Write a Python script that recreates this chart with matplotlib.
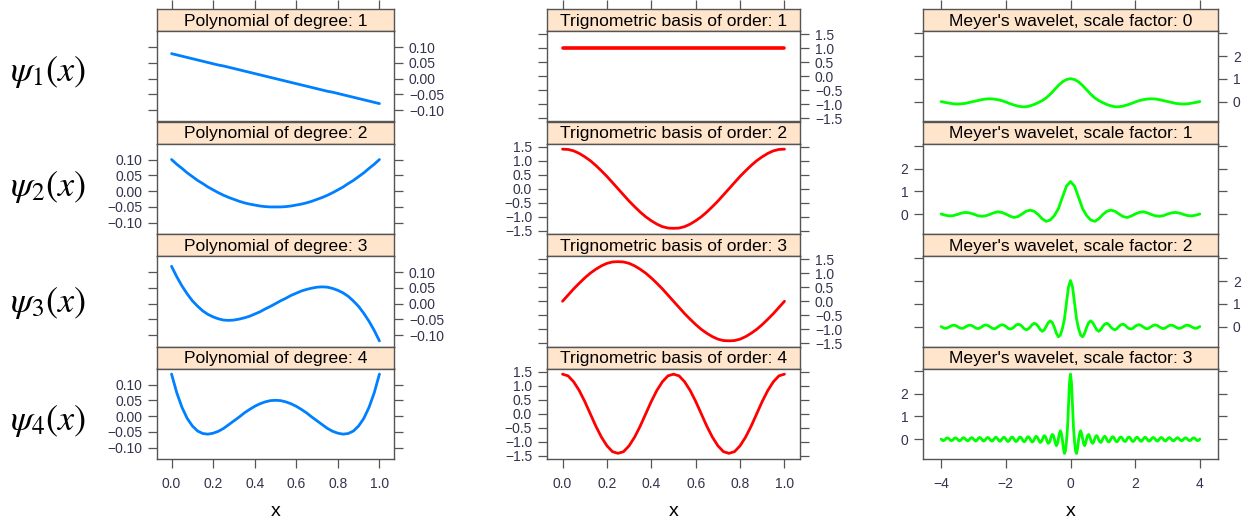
import numpy as np
import matplotlib.pyplot as plt

plt.rcParams['font.family'] = ['Liberation Sans', 'DejaVu Sans']
plt.rcParams['mathtext.fontset'] = 'stix'

# ---- data ----
x_unit = np.linspace(0, 1, 41)
x_m0 = np.linspace(-4, 4, 65)
x_m1 = np.linspace(-4, 4, 65)
x_m2 = np.linspace(-4, 4, 129)
x_m3 = np.linspace(-4, 4, 257)

poly1 = [0.079, 0.075, 0.071, 0.067, 0.063, 0.059, 0.055, 0.051, 0.047, 0.043,
         0.040, 0.036, 0.032, 0.028, 0.024, 0.020, 0.016, 0.012, 0.008, 0.004,
         0.000, -0.004, -0.008, -0.012, -0.016, -0.020, -0.024, -0.028, -0.032, -0.036,
         -0.040, -0.043, -0.047, -0.051, -0.055, -0.059, -0.063, -0.067, -0.071, -0.075,
         -0.079]
poly2 = [0.100, 0.085, 0.072, 0.058, 0.046, 0.034, 0.024, 0.013, 0.004, -0.005,
         -0.013, -0.020, -0.026, -0.032, -0.037, -0.041, -0.044, -0.047, -0.049, -0.050,
         -0.050, -0.050, -0.049, -0.047, -0.044, -0.041, -0.037, -0.032, -0.026, -0.020,
         -0.013, -0.005, 0.004, 0.013, 0.024, 0.034, 0.046, 0.058, 0.072, 0.085,
         0.100]
poly3 = [0.118, 0.085, 0.056, 0.031, 0.009, -0.008, -0.023, -0.034, -0.042, -0.048,
         -0.052, -0.053, -0.052, -0.049, -0.045, -0.040, -0.033, -0.026, -0.017, -0.009,
         0.000, 0.009, 0.017, 0.026, 0.033, 0.040, 0.045, 0.049, 0.052, 0.053,
         0.052, 0.048, 0.042, 0.034, 0.023, 0.008, -0.009, -0.031, -0.056, -0.085,
         -0.118]
poly4 = [0.133, 0.074, 0.028, -0.007, -0.031, -0.047, -0.055, -0.057, -0.054, -0.048,
         -0.039, -0.027, -0.015, -0.003, 0.010, 0.021, 0.031, 0.039, 0.045, 0.049,
         0.050, 0.049, 0.045, 0.039, 0.031, 0.021, 0.010, -0.003, -0.015, -0.027,
         -0.039, -0.048, -0.054, -0.057, -0.055, -0.047, -0.031, -0.007, 0.028, 0.074,
         0.133]

trig1 = [1.00] * 41
trig2 = [1.41, 1.40, 1.35, 1.26, 1.14, 1.00, 0.83, 0.64, 0.44, 0.22,
         0.00, -0.22, -0.44, -0.64, -0.83, -1.00, -1.14, -1.26, -1.35, -1.40,
         -1.41, -1.40, -1.35, -1.26, -1.14, -1.00, -0.83, -0.64, -0.44, -0.22,
         0.00, 0.22, 0.44, 0.64, 0.83, 1.00, 1.14, 1.26, 1.35, 1.40,
         1.41]
trig3 = [0.00, 0.22, 0.44, 0.64, 0.83, 1.00, 1.14, 1.26, 1.35, 1.40,
         1.41, 1.40, 1.35, 1.26, 1.14, 1.00, 0.83, 0.64, 0.44, 0.22,
         0.00, -0.22, -0.44, -0.64, -0.83, -1.00, -1.14, -1.26, -1.35, -1.40,
         -1.41, -1.40, -1.35, -1.26, -1.14, -1.00, -0.83, -0.64, -0.44, -0.22,
         0.00]
trig4 = [1.41, 1.35, 1.14, 0.83, 0.44, 0.00, -0.44, -0.83, -1.14, -1.35,
         -1.41, -1.35, -1.14, -0.83, -0.44, 0.00, 0.44, 0.83, 1.14, 1.35,
         1.41, 1.35, 1.14, 0.83, 0.44, 0.00, -0.44, -0.83, -1.14, -1.35,
         -1.41, -1.35, -1.14, -0.83, -0.44, 0.00, 0.44, 0.83, 1.14, 1.35,
         1.41]

meyer0 = [0.01, -0.03, -0.06, -0.09, -0.10, -0.09, -0.07, -0.03,
          0.01, 0.05, 0.09, 0.12, 0.13, 0.12, 0.09, 0.05,
          -0.01, -0.08, -0.14, -0.19, -0.22, -0.22, -0.18, -0.12,
          -0.04, 0.05, 0.17, 0.33, 0.52, 0.71, 0.87, 0.97,
          1.01,
          0.97, 0.87, 0.71, 0.52, 0.33, 0.17, 0.05, -0.04,
          -0.12, -0.18, -0.22, -0.22, -0.19, -0.14, -0.08, -0.01,
          0.05, 0.09, 0.12, 0.13, 0.12, 0.09, 0.05, 0.01,
          -0.03, -0.07, -0.09, -0.10, -0.09, -0.06, -0.03, 0.01]
meyer1 = [0.01, -0.04, -0.07, -0.06, -0.01, 0.05, 0.08, 0.06,
          0.01, -0.06, -0.09, -0.07, -0.01, 0.06, 0.11, 0.08,
          0.01, -0.08, -0.14, -0.10, 0.01, 0.13, 0.18, 0.13,
          -0.01, -0.20, -0.31, -0.25, -0.06, 0.24, 0.74, 1.23,
          1.43,
          1.23, 0.74, 0.24, -0.06, -0.25, -0.31, -0.20, -0.01,
          0.13, 0.18, 0.13, 0.01, -0.10, -0.14, -0.08, 0.01,
          0.08, 0.11, 0.06, -0.01, -0.07, -0.09, -0.06, 0.01,
          0.06, 0.08, 0.05, -0.01, -0.06, -0.07, -0.04, 0.01]
meyer2 = [0.01,
          -0.04, -0.07, -0.05, -0.01, 0.04, 0.07, 0.06, 0.01,
          -0.04, -0.07, -0.06, -0.01, 0.04, 0.07, 0.06, 0.01,
          -0.05, -0.08, -0.06, -0.01, 0.05, 0.08, 0.06, 0.01,
          -0.05, -0.09, -0.07, -0.01, 0.05, 0.09, 0.07, 0.02,
          -0.06, -0.10, -0.08, -0.02, 0.07, 0.11, 0.09, 0.02,
          -0.08, -0.13, -0.10, -0.02, 0.09, 0.15, 0.12, 0.02,
          -0.12, -0.20, -0.14, 0.02, 0.18, 0.26, 0.18, -0.02,
          -0.28, -0.44, -0.36, -0.08, 0.34, 1.04, 1.74,
          2.02,
          1.74, 1.04, 0.34, -0.08, -0.36, -0.44, -0.28,
          -0.02, 0.18, 0.26, 0.18, 0.02, -0.14, -0.20, -0.12,
          0.02, 0.12, 0.15, 0.09, -0.02, -0.10, -0.13, -0.08,
          0.02, 0.09, 0.11, 0.07, -0.02, -0.08, -0.10, -0.06,
          0.02, 0.07, 0.09, 0.05, -0.01, -0.07, -0.09, -0.05,
          0.01, 0.06, 0.08, 0.05, -0.01, -0.06, -0.08, -0.05,
          0.01, 0.06, 0.07, 0.04, -0.01, -0.06, -0.07, -0.04,
          0.01, 0.06, 0.07, 0.04, -0.01, -0.05, -0.07, -0.04,
          0.01]
meyer3 = [0.01,
          -0.04, -0.06, -0.05, -0.01, 0.04, 0.06, 0.05, 0.01,
          -0.04, -0.06, -0.05, -0.01, 0.04, 0.06, 0.05, 0.01,
          -0.04, -0.07, -0.05, -0.01, 0.04, 0.07, 0.05, 0.01,
          -0.04, -0.07, -0.06, -0.01, 0.04, 0.07, 0.06, 0.01,
          -0.04, -0.08, -0.06, -0.01, 0.05, 0.08, 0.06, 0.01,
          -0.05, -0.08, -0.06, -0.01, 0.05, 0.08, 0.06, 0.01,
          -0.05, -0.08, -0.07, -0.01, 0.05, 0.09, 0.07, 0.01,
          -0.05, -0.09, -0.07, -0.01, 0.05, 0.09, 0.07, 0.01,
          -0.06, -0.10, -0.08, -0.02, 0.06, 0.10, 0.08, 0.02,
          -0.06, -0.10, -0.08, -0.02, 0.06, 0.10, 0.08, 0.02,
          -0.07, -0.11, -0.09, -0.02, 0.07, 0.11, 0.09, 0.02,
          -0.07, -0.12, -0.10, -0.02, 0.08, 0.13, 0.10, 0.03,
          -0.08, -0.14, -0.11, -0.03, 0.09, 0.16, 0.13, 0.03,
          -0.11, -0.18, -0.14, -0.03, 0.13, 0.21, 0.17, 0.03,
          -0.17, -0.28, -0.20, 0.03, 0.25, 0.37, 0.25, -0.03,
          -0.40, -0.62, -0.51, -0.11, 0.48, 1.47, 2.46,
          2.85,
          2.46, 1.47, 0.48, -0.11, -0.51, -0.62, -0.40,
          -0.03, 0.25, 0.37, 0.25, 0.03, -0.20, -0.28, -0.17,
          0.03, 0.17, 0.21, 0.13, -0.03, -0.14, -0.18, -0.11,
          0.03, 0.13, 0.16, 0.09, -0.03, -0.11, -0.14, -0.08,
          0.03, 0.10, 0.13, 0.08, -0.02, -0.10, -0.12, -0.07,
          0.02, 0.09, 0.11, 0.07, -0.02, -0.09, -0.11, -0.07,
          0.02, 0.08, 0.10, 0.06, -0.02, -0.08, -0.10, -0.06,
          0.02, 0.08, 0.10, 0.06, -0.02, -0.08, -0.10, -0.06,
          0.01, 0.07, 0.09, 0.05, -0.01, -0.07, -0.09, -0.05,
          0.01, 0.07, 0.09, 0.05, -0.01, -0.07, -0.08, -0.05,
          0.01, 0.06, 0.08, 0.05, -0.01, -0.06, -0.08, -0.05,
          0.01, 0.06, 0.08, 0.05, -0.01, -0.06, -0.08, -0.04,
          0.01, 0.06, 0.07, 0.04, -0.01, -0.06, -0.07, -0.04,
          0.01, 0.05, 0.07, 0.04, -0.01, -0.05, -0.07, -0.04,
          0.01, 0.05, 0.06, 0.04, -0.01, -0.05, -0.06, -0.04,
          0.01, 0.05, 0.06, 0.04, -0.01, -0.05, -0.06, -0.04,
          0.01]

poly_titles = ['Polynomial of degree: %d' % i for i in [1, 2, 3, 4]]
trig_titles = ['Trignometric basis of order: %d' % i for i in [1, 2, 3, 4]]
meyer_titles = ["Meyer's wavelet, scale factor: %d" % i for i in [0, 1, 2, 3]]
row_labels = [r'$\psi_1(x)$', r'$\psi_2(x)$', r'$\psi_3(x)$', r'$\psi_4(x)$']

# ---- layout ----
W, H = 1254, 523
fig = plt.figure(figsize=(W / 100, H / 100), dpi=100)

def rect(x0, x1, y0, y1):
    return [x0 / W, 1 - y1 / H, (x1 - x0) / W, (y1 - y0) / H]

frame = '#555555'
tick_txt = '#33334d'
strip_bg = '#ffe5cc'

columns = [
    dict(left=157, right=394, xs=[x_unit] * 4, ys=[poly1, poly2, poly3, poly4],
         titles=poly_titles, color='#0080ff', xlim=(-0.07, 1.07), ylim=(-0.1356, 0.1506),
         xticks=[0, 0.2, 0.4, 0.6, 0.8, 1.0], xlabels=['0.0', '0.2', '0.4', '0.6', '0.8', '1.0'],
         yticks=[-0.1, -0.05, 0, 0.05, 0.1],
         ylabels=['\u22120.10', '\u22120.05', '0.00', '0.05', '0.10']),
    dict(left=547, right=800, xs=[x_unit] * 4, ys=[trig1, trig2, trig3, trig4],
         titles=trig_titles, color='#ff0000', xlim=(-0.07, 1.07), ylim=(-1.612, 1.612),
         xticks=[0, 0.2, 0.4, 0.6, 0.8, 1.0], xlabels=['0.0', '0.2', '0.4', '0.6', '0.8', '1.0'],
         yticks=[-1.5, -1.0, -0.5, 0, 0.5, 1.0, 1.5],
         ylabels=['\u22121.5', '\u22121.0', '\u22120.5', '0.0', '0.5', '1.0', '1.5']),
    dict(left=923, right=1218, xs=[x_m0, x_m1, x_m2, x_m3], ys=[meyer0, meyer1, meyer2, meyer3],
         titles=meyer_titles, color='#00ff00', xlim=(-4.56, 4.56), ylim=(-0.863, 3.093),
         xticks=[-4, -2, 0, 2, 4], xlabels=['\u22124', '\u22122', '0', '2', '4'],
         yticks=[0, 1, 2, 3], ylabels=['0', '1', '2', '']),
]

tick_len = 6.7
for col in columns:
    for r in range(4):
        top = 9 + 112.5 * r
        strip = fig.add_axes(rect(col['left'], col['right'], top, top + 22))
        ax = fig.add_axes(rect(col['left'], col['right'], top + 22, top + 112.5))

        lw = 2.6 if col['ys'][r] is trig1 else 2.0
        ax.plot(col['xs'][r], col['ys'][r], color=col['color'], lw=lw, solid_capstyle='round')
        ax.set_xlim(col['xlim'])
        ax.set_ylim(col['ylim'])

        for a in (ax, strip):
            for s in a.spines.values():
                s.set_color(frame)
                s.set_linewidth(1.0)

        ax.set_yticks(col['yticks'])
        ax.set_yticklabels(col['ylabels'])
        ax.tick_params(axis='y', direction='out', length=tick_len, width=0.9, color=frame,
                       labelcolor=tick_txt, labelsize=10, pad=4,
                       left=True, right=True,
                       labelleft=(r % 2 == 1), labelright=(r % 2 == 0))
        ax.set_xticks(col['xticks'])
        if r == 3:
            ax.set_xticklabels(col['xlabels'])
            ax.tick_params(axis='x', direction='out', length=tick_len, width=0.9, color=frame,
                           labelcolor=tick_txt, labelsize=10, pad=6, top=False)
        else:
            ax.tick_params(axis='x', bottom=False, top=False, labelbottom=False)

        strip.set_facecolor(strip_bg)
        strip.set_xlim(col['xlim'])
        strip.set_yticks([])
        if r == 0:
            strip.set_xticks(col['xticks'])
            strip.tick_params(axis='x', direction='out', length=tick_len, width=0.9, color=frame,
                              bottom=False, top=True, labelbottom=False, labeltop=False)
        else:
            strip.set_xticks([])
        strip.text(0.5, 0.45, col['titles'][r], transform=strip.transAxes,
                   ha='center', va='center', fontsize=12.6, color='black')

    fig.text((col['left'] + col['right']) / 2 / W, 1 - 512 / H, 'x',
             ha='center', va='center', fontsize=14, color='black')

for lab, yc in zip(row_labels, [72, 187, 303, 421]):
    fig.text(10 / W, 1 - yc / H, lab, ha='left', va='center', fontsize=26, color='black')

fig.savefig('out.png', dpi=100)
